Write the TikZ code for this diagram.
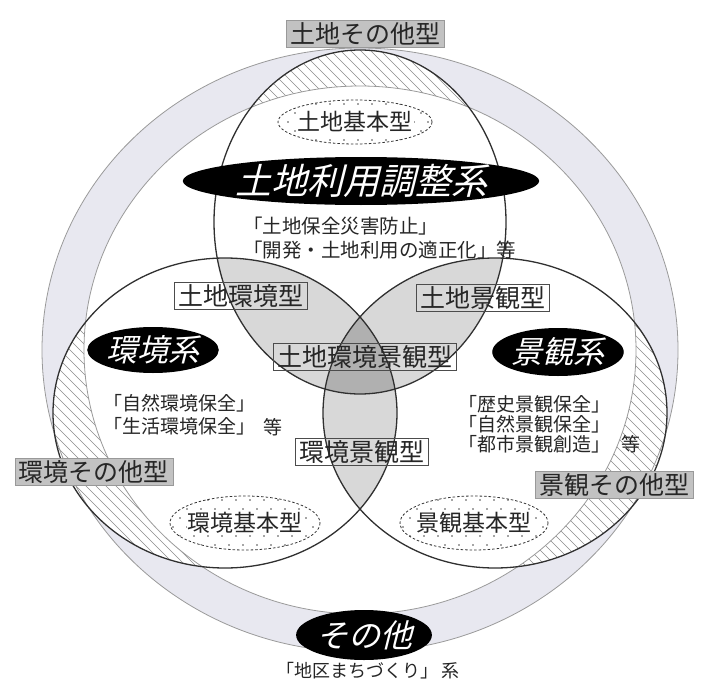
\documentclass[tikz,border=0pt]{standalone}
\usepackage{fontspec}
\setmainfont{Noto Sans CJK JP}
\newfontfamily\jpit[FakeSlant=0.25]{Noto Sans CJK JP}
\usetikzlibrary{shapes.geometric}
\definecolor{ringfill}{HTML}{E8E8F0}
\definecolor{ringline}{HTML}{9A9A9A}
\definecolor{ovA}{HTML}{D8D8D8}
\definecolor{ovB}{HTML}{B0B0B0}
\definecolor{vennline}{HTML}{303030}
\definecolor{boxgray}{HTML}{C2C2C2}
\tikzset{
  typebox/.style={draw=black!70, line width=0.9pt, inner xsep=4pt, inner ysep=2pt,
    font=\fontsize{25}{25}\selectfont, text=black!85},
  otherbox/.style={typebox, fill=boxgray, draw=black!40},
  sysoval/.style={ellipse, fill=black, text=white, inner sep=0pt},
  baseoval/.style={draw=black!80, line width=0.8pt, dash pattern=on 2.5pt off 2pt},
  basetext/.style={fill=white, inner sep=1pt, font=\fontsize{23}{23}\selectfont, text=black!85},
  notetext/.style={align=left, anchor=west, inner sep=0pt, text=black!85},
  hatchline/.style={draw=black!45, line width=0.6pt},
  ringedge/.style={draw=ringline, line width=0.8pt},
  vennedge/.style={draw=vennline, line width=1.3pt}
}
\begin{document}
\begin{tikzpicture}[x=1pt,y=-1pt]
\useasboundingbox (0,0) rectangle (704,682);
\fill[white] (0,0) rectangle (704,682);
% ring
\fill[ringfill] (360,350) ellipse [x radius=318, y radius=302];
\fill[white] (360,350) ellipse [x radius=276, y radius=264];
% venn interiors
\fill[white] (360,222) ellipse [x radius=146, y radius=172];
\fill[white] (225,413) ellipse [x radius=172, y radius=155];
\fill[white] (495,413) ellipse [x radius=172, y radius=155];
% hatching: parts of the three ellipses lying in the ring
\begin{scope}[even odd rule]
  \clip (-10,-10) rectangle (714,692) (360,350) ellipse [x radius=276, y radius=264];
  \begin{scope}
    \clip (360,222) ellipse [x radius=146, y radius=172];
    \foreach \k in {-700,-690,...,1400} \draw[hatchline] (\k,0) -- ++(700,700);
  \end{scope}
  \begin{scope}
    \clip (225,413) ellipse [x radius=172, y radius=155];
    \foreach \k in {-700,-690,...,1400} \draw[hatchline] (\k,0) -- ++(700,700);
  \end{scope}
  \begin{scope}
    \clip (495,413) ellipse [x radius=172, y radius=155];
    \foreach \k in {-700,-690,...,1400} \draw[hatchline] (\k,0) -- ++(700,700);
  \end{scope}
\end{scope}
% overlaps
\begin{scope}
  \clip (360,222) ellipse [x radius=146, y radius=172];
  \fill[ovA] (225,413) ellipse [x radius=172, y radius=155];
  \fill[ovA] (495,413) ellipse [x radius=172, y radius=155];
\end{scope}
\begin{scope}
  \clip (225,413) ellipse [x radius=172, y radius=155];
  \fill[ovA] (495,413) ellipse [x radius=172, y radius=155];
\end{scope}
\begin{scope}
  \clip (360,222) ellipse [x radius=146, y radius=172];
  \clip (225,413) ellipse [x radius=172, y radius=155];
  \fill[ovB] (495,413) ellipse [x radius=172, y radius=155];
\end{scope}
% outlines
\draw[ringedge] (360,350) ellipse [x radius=318, y radius=302];
\draw[ringedge] (360,350) ellipse [x radius=276, y radius=264];
\draw[vennedge] (360,222) ellipse [x radius=146, y radius=172];
\draw[vennedge] (225,413) ellipse [x radius=172, y radius=155];
\draw[vennedge] (495,413) ellipse [x radius=172, y radius=155];

% basic-type dotted ovals
\begin{scope}
  \clip (355,122) ellipse [x radius=77, y radius=22];
  \foreach \r in {0,...,5} \foreach \c in {0,...,12}
    \fill[black!70] ({274+\c*14+mod(\r,2)*7},{104+\r*9}) circle (0.9);
\end{scope}
\draw[baseoval] (355,122) ellipse [x radius=77, y radius=22];
\node[basetext] (tk) at (355,122) {土地基本型};

\begin{scope}
  \clip (245,523) ellipse [x radius=75, y radius=27];
  \foreach \r in {0,...,6} \foreach \c in {0,...,12}
    \fill[black!70] ({166+\c*14+mod(\r,2)*7},{500+\r*9}) circle (0.9);
\end{scope}
\draw[baseoval] (245,523) ellipse [x radius=75, y radius=27];
\node[basetext] (kk) at (245,523) {環境基本型};

\begin{scope}
  \clip (474,523) ellipse [x radius=74, y radius=27];
  \foreach \r in {0,...,6} \foreach \c in {0,...,12}
    \fill[black!70] ({396+\c*14+mod(\r,2)*7},{500+\r*9}) circle (0.9);
\end{scope}
\draw[baseoval] (474,523) ellipse [x radius=74, y radius=27];
\node[basetext] (sk) at (474,523) {景観基本型};

% system ovals
\node[sysoval, minimum width=270pt, minimum height=48pt, font=\jpit\fontsize{36}{36}\selectfont] (tsys) at (361,181) {土地利用調整系};
\node[sysoval, minimum width=113pt, minimum height=46pt, font=\jpit\fontsize{31}{31}\selectfont] (ksys) at (153,350) {環境系};
\node[sysoval, minimum width=117pt, minimum height=48pt, font=\jpit\fontsize{31}{31}\selectfont] (ssys) at (558,352) {景観系};
\node[sysoval, minimum width=112pt, minimum height=50pt, font=\jpit\fontsize{32}{32}\selectfont] (osys) at (364,635) {その他};

% notes
\node[notetext, font=\fontsize{19.5}{24}\selectfont] (tnote) at (243,238) {「土地保全災害防止」\\「開発・土地利用の適正化」等};
\node[notetext, font=\fontsize{19}{23}\selectfont] (knote) at (103,415) {「自然環境保全」\\「生活環境保全」};
\node[notetext, font=\fontsize{19}{19}\selectfont] (kto) at (263,427) {等};
\node[notetext, font=\fontsize{19}{20}\selectfont] (snote) at (458,424) {「歴史景観保全」\\「自然景観保全」\\「都市景観創造」};
\node[notetext, font=\fontsize{19}{19}\selectfont] (sto) at (621,444) {等};
\node[inner sep=0pt, text=black!85, font=\fontsize{18}{18}\selectfont] (onote) at (368,671) {「地区まちづくり」\hspace{4pt}系};

% type boxes
\node[otherbox] (tother) at (365,34) {土地その他型};
\node[otherbox] (kother) at (94,472) {環境その他型};
\node[otherbox] (sother) at (614,485) {景観その他型};
\node[typebox] (tkb) at (241,296) {土地環境型};
\node[typebox] (tsb) at (483,298) {土地景観型};
\node[typebox] (tksb) at (365,357) {土地環境景観型};
\node[typebox] (ksb) at (362,452) {環境景観型};
\end{tikzpicture}
\end{document}
